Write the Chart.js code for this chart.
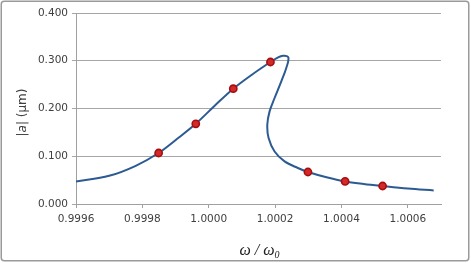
<!DOCTYPE html>
<html><head><meta charset="utf-8">
<script src="https://cdn.jsdelivr.net/npm/chart.js@4.4.1/dist/chart.umd.min.js"></script>
<style>html,body{margin:0;padding:0;background:#fff}#wrap{position:relative;width:471px;height:263px}</style>
</head><body><div id="wrap"><canvas id="c" width="471" height="263"></canvas></div>
<script>
// Response curve (frequency ratio, amplitude in µm), in drawing order (folds back)
const curveX = [0.99960,0.99970,0.99978,0.999849,0.999904,0.999961,1.000018,1.000074,1.000130,1.000186,1.000205,1.0002235,1.000240,1.0002337,1.0002187,1.0001985,1.0001834,1.0001765,1.0001804,1.0001985,1.0002286,1.0002687,1.000299,1.000355,1.000411,1.000467,1.000524,1.000600,1.000678];
const curveY = [0.0473,0.0590,0.0800,0.1068,0.1360,0.1680,0.2059,0.2415,0.2708,0.2974,0.3053,0.3106,0.3070,0.2848,0.2568,0.2220,0.1940,0.1660,0.1380,0.1100,0.0892,0.0754,0.0670,0.0560,0.0473,0.0420,0.0377,0.0325,0.0285];
// Measured points
const markerX = [0.999849,0.999961,1.000074,1.000186,1.000299,1.000411,1.000524];
const markerY = [0.1068,0.1680,0.2415,0.2974,0.0670,0.0473,0.0377];
// Axis ticks
const xTicks = [0.9996,0.9998,1.0000,1.0002,1.0004,1.0006];
const yTicks = [0.000,0.100,0.200,0.300,0.400];
const xMin = 0.9996, xMax = 1.0007, yMin = 0, yMax = 0.4;
const yTitleParts = [["|",false],["a",true],["| (μm)",false]];
const xTitleMain = "ω / ω";
const xTitleSub = "0";

const frame = {
  id:'frame',
  beforeDraw(chart){
    const ctx = chart.ctx;
    ctx.save();
    ctx.fillStyle='#fff';
    ctx.fillRect(0,0,chart.width,chart.height);
    ctx.strokeStyle='#9a9a9a';
    ctx.lineWidth=1.5;
    ctx.beginPath();
    ctx.roundRect(1.25,1.25,467.5,259.5,3);
    ctx.stroke();
    ctx.restore();
  },
  afterDraw(chart){
    const ctx = chart.ctx, ca = chart.chartArea;
    ctx.save();
    ctx.fillStyle='#404040';
    ctx.textBaseline='middle';
    ctx.translate(23,(ca.top+ca.bottom)/2+4);
    ctx.rotate(-Math.PI/2);
    let total=0;
    const fonts = yTitleParts.map(p=>(p[1]?'italic ':'')+'12px "DejaVu Sans"');
    yTitleParts.forEach((p,i)=>{ctx.font=fonts[i]; total+=ctx.measureText(p[0]).width;});
    let x=-total/2;
    ctx.textAlign='left';
    yTitleParts.forEach((p,i)=>{ctx.font=fonts[i]; ctx.fillText(p[0],x,0); x+=ctx.measureText(p[0]).width;});
    ctx.restore();
    ctx.save();
    ctx.fillStyle='#202020';
    ctx.textBaseline='alphabetic';
    ctx.textAlign='left';
    const f1='italic 16px "Liberation Serif"', f2='italic 10px "Liberation Serif"';
    ctx.font=f1; const w1=ctx.measureText(xTitleMain).width;
    ctx.font=f2; const w2=ctx.measureText(xTitleSub).width;
    const cx=(ca.left+ca.right)/2+1;
    let sx=cx-(w1+w2)/2;
    ctx.font=f1; ctx.fillText(xTitleMain,sx,255);
    ctx.font=f2; ctx.fillText(xTitleSub,sx+w1,258);
    ctx.restore();
  }
};

new Chart(document.getElementById('c'),{
  type:'scatter',
  data:{datasets:[
    {data:markerX.map((v,i)=>({x:v,y:markerY[i]})),showLine:false,pointRadius:3.6,pointBorderWidth:1.6,
     pointBackgroundColor:'#d22a2a',pointBorderColor:'#a80d0d'},
    {data:curveX.map((v,i)=>({x:v,y:curveY[i]})),showLine:true,pointRadius:0,borderColor:'#2c5a92',borderWidth:2,tension:0.35,fill:false}
  ]},
  options:{
    responsive:false,animation:false,
    layout:{padding:{left:0,top:13,right:30,bottom:0}},
    plugins:{legend:{display:false},tooltip:{enabled:false}},
    scales:{
      x:{type:'linear',min:xMin,max:xMax,
        afterBuildTicks(s){s.ticks=xTicks.map(v=>({value:v}));},
        afterFit(s){s.height=59;},
        ticks:{callback:v=>v.toFixed(4),color:'#404040',font:{family:'"DejaVu Sans"',size:10.5},padding:5,maxRotation:0,autoSkip:false},
        grid:{drawOnChartArea:false,drawTicks:true,tickLength:4,color:'#a0a0a0'},
        border:{color:'#a0a0a0'}},
      y:{type:'linear',min:yMin,max:yMax,
        afterBuildTicks(s){s.ticks=yTicks.map(v=>({value:v}));},
        afterFit(s){s.width=76;},
        ticks:{callback:v=>v.toFixed(3),color:'#404040',font:{family:'"DejaVu Sans"',size:10.5},padding:4,autoSkip:false},
        grid:{color:'#a6a6a6',tickLength:4},
        border:{color:'#a0a0a0'}}
    }
  },
  plugins:[frame]
});
</script></body></html>
